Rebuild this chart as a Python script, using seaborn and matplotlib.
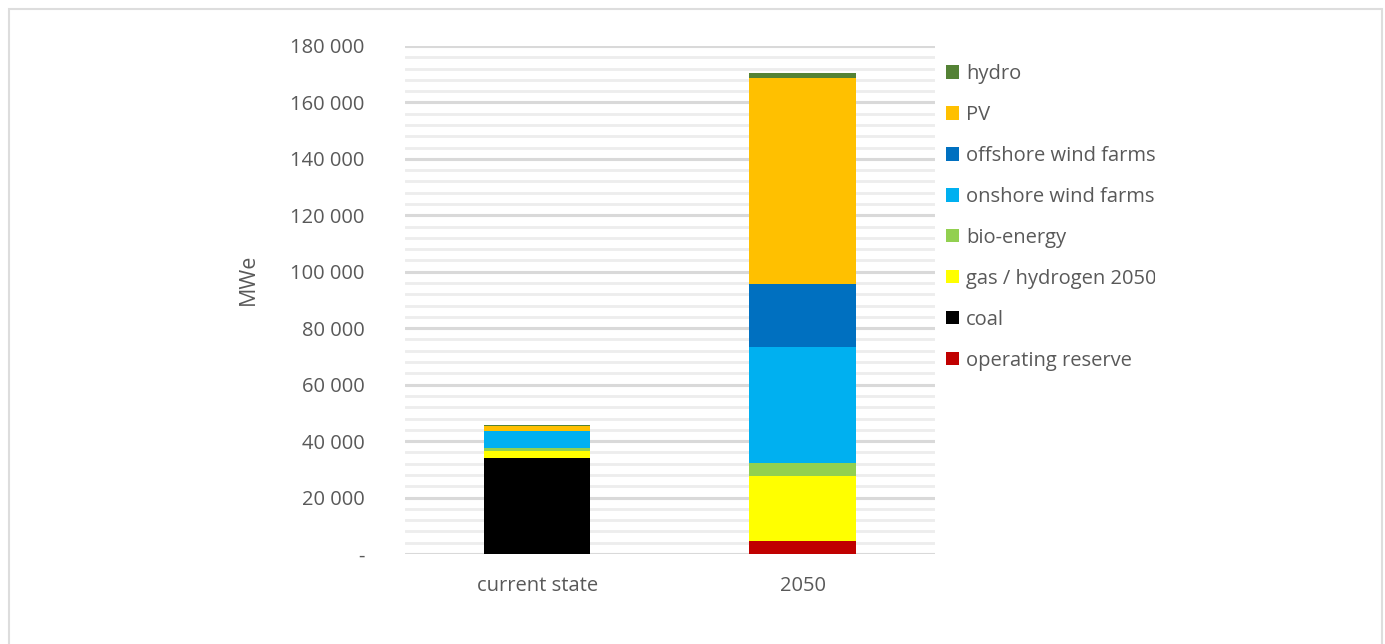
import matplotlib
matplotlib.use("Agg")
import matplotlib.pyplot as plt
import matplotlib.ticker as mticker
from matplotlib.patches import Patch, Rectangle
from matplotlib.transforms import Bbox
import seaborn as sns
import pandas as pd

# Installed capacity (MWe) by source, stacked from the bottom up
scenarios = ["current state", "2050"]
sources = ["operating reserve", "coal", "gas / hydrogen 2050", "bio-energy",
           "onshore wind farms", "offshore wind farms", "PV", "hydro"]
operating_reserve = [0, 4600]
coal = [33900, 0]
gas_hydrogen = [2600, 23000]
bio_energy = [1200, 4800]
onshore_wind = [5700, 41000]
offshore_wind = [0, 22300]
pv = [1800, 73000]
hydro = [600, 1700]

colors = ["#C00000", "#000000", "#FFFF00", "#92D050",
          "#00B0F0", "#0070C0", "#FFC000", "#548235"]

series = [operating_reserve, coal, gas_hydrogen, bio_energy,
          onshore_wind, offshore_wind, pv, hydro]
df = pd.DataFrame({name: vals for name, vals in zip(sources, series)},
                  index=scenarios)

sns.set_theme(style="white")
plt.rcParams["font.family"] = ["Open Sans", "DejaVu Sans"]
text_color = "#595959"

fig = plt.figure(figsize=(13.85, 6.44), dpi=100)
fig.patch.set_facecolor("white")
ax = fig.add_axes([0.2924, 0.1398, 0.3827, 0.7888])

# Light frame around the chart area
fig.patches.append(Rectangle((8.5 / 1385, -0.05), (1382 - 8.5) / 1385, 1.05 - 8.5 / 644,
                             transform=fig.transFigure, fill=False,
                             edgecolor="#DDDDDD", linewidth=1.5, zorder=0))

bottom = [0.0, 0.0]
for name, color in zip(sources, colors):
    vals = df[name].tolist()
    sns.barplot(x=scenarios, y=vals, bottom=bottom, color=color, width=0.4,
                saturation=1, ax=ax, zorder=3, linewidth=0)
    bottom = [b + v for b, v in zip(bottom, vals)]

ax.set_xlim(-0.5, 1.5)
ax.set_ylim(0, 180000)

# Major and minor horizontal gridlines
ax.yaxis.set_major_locator(mticker.MultipleLocator(20000))
ax.yaxis.set_minor_locator(mticker.MultipleLocator(4000))
ax.grid(axis="y", which="major", color="#D9D9D9", linewidth=2.2, zorder=0)
ax.grid(axis="y", which="minor", color="#EDEDED", linewidth=2.0, zorder=0)
ax.grid(axis="x", visible=False)
ax.set_axisbelow(True)


def fmt(v, pos):
    if v == 0:
        return "-"
    return f"{int(v):,}".replace(",", " ")


ax.yaxis.set_major_formatter(mticker.FuncFormatter(fmt))
ax.tick_params(axis="y", which="both", length=0, pad=29, labelsize=14.5,
               labelcolor=text_color)
ax.tick_params(axis="x", length=0, pad=16, labelsize=14.5, labelcolor=text_color)
for s in ax.spines.values():
    s.set_visible(False)

ax.set_xlabel("")
ax.set_ylabel("MWe", fontsize=15.5, color=text_color)
ax.yaxis.set_label_coords(-0.276, 0.54)

handles = [Patch(facecolor=c, edgecolor="none") for c in colors][::-1]
labels = sources[::-1]
leg = fig.legend(handles, labels, loc="upper left",
                 bbox_to_anchor=(938 / 1385, 1 - 56 / 644),
                 frameon=False, fontsize=14.5, labelcolor=text_color,
                 handlelength=0.65, handleheight=0.65, handletextpad=0.35,
                 labelspacing=1.04, borderaxespad=0)

# Long legend labels are cut at the right edge of the legend column
fig.canvas.draw()
clip = Bbox.from_extents(0, 0, 1154.5, 644)
for t in leg.get_texts():
    t.set_clip_on(True)
    t.set_clip_box(clip)

fig.savefig("out.png", dpi=100, facecolor="white")
